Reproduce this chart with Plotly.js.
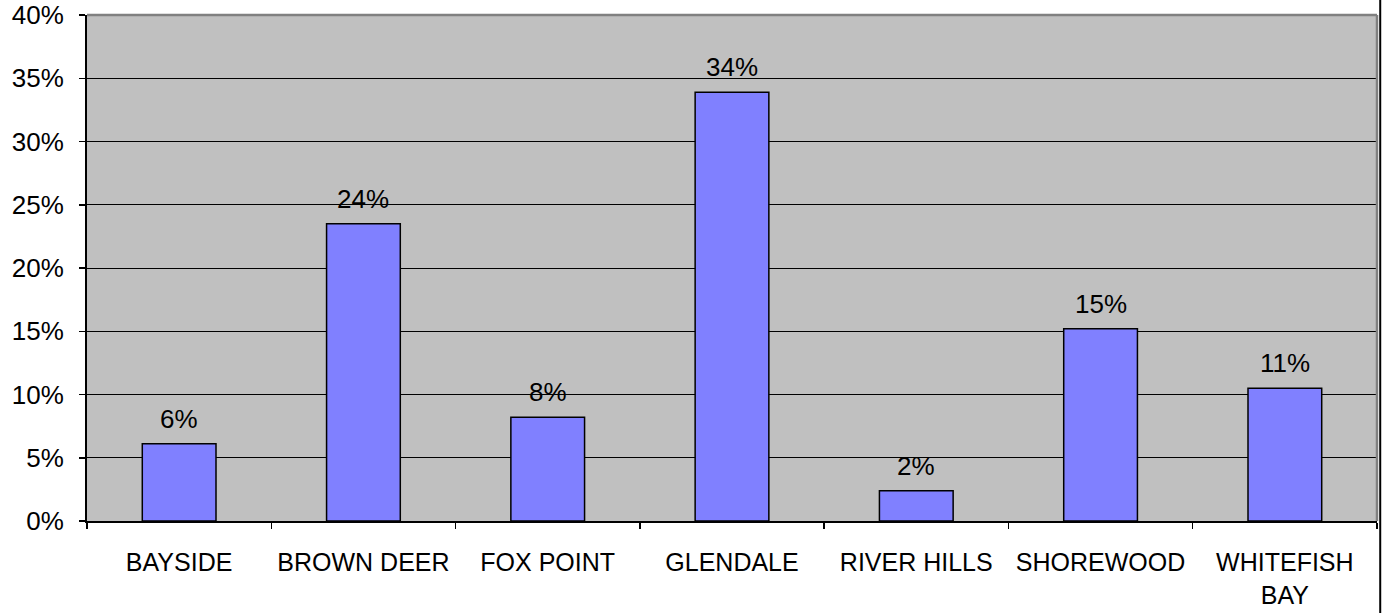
<!DOCTYPE html>
<html><head><meta charset="utf-8">
<script src="https://cdn.plot.ly/plotly-3.0.1.min.js"></script>
<style>html,body{margin:0;padding:0;background:#fff}#c{width:1387px;height:613px}</style>
</head><body><div id="c"></div>
<script>
const categories = ["BAYSIDE", "BROWN DEER", "FOX POINT", "GLENDALE", "RIVER HILLS", "SHOREWOOD", "WHITEFISH BAY"];
const tickLabels = ["BAYSIDE", "BROWN DEER", "FOX POINT", "GLENDALE", "RIVER HILLS", "SHOREWOOD", "WHITEFISH<br>BAY"];
const values = [0.061, 0.235, 0.082, 0.339, 0.024, 0.152, 0.105];
const labels = values.map(v => Math.round(v * 100) + "%");

const font = {family: "Liberation Sans, Arial, sans-serif", color: "#000"};

const trace = {
  type: "bar",
  x: categories,
  y: values,
  marker: {color: "#8080FF", line: {color: "#000", width: 1.5}},
  hoverinfo: "none"
};

const annotations = values.map((v, i) => ({
  x: categories[i], y: v, xref: "x", yref: "y",
  text: labels[i], showarrow: false, yanchor: "bottom", yshift: 8,
  font: Object.assign({}, font, {size: 26})
}));

const layout = {
  width: 1387, height: 613,
  margin: {l: 87, r: 10, t: 15, b: 92},
  paper_bgcolor: "#fff",
  plot_bgcolor: "#C0C0C0",
  bargap: 0.6,
  showlegend: false,
  font: font,
  xaxis: {
    type: "category",
    tickvals: categories, ticktext: tickLabels,
    tickson: "boundaries",
    tickangle: 0,
    ticks: "outside", ticklen: 6, tickwidth: 1.5, tickcolor: "#000",
    ticklabelstandoff: 18,
    showline: true, linecolor: "#000", linewidth: 2,
    showgrid: false,
    tickfont: Object.assign({}, font, {size: 25}),
    automargin: false
  },
  yaxis: {
    range: [0, 0.4], dtick: 0.05, tickformat: ".0%",
    ticks: "outside", ticklen: 6, tickwidth: 1.5, tickcolor: "#000",
    ticklabelstandoff: 10,
    showline: true, linecolor: "#000", linewidth: 2,
    showgrid: true, gridcolor: "#000", gridwidth: 1,
    zeroline: false,
    tickfont: Object.assign({}, font, {size: 26}),
    automargin: false
  },
  annotations: annotations,
  shapes: [
    {type: "line", xref: "paper", yref: "paper", x0: 0, x1: 1, y0: 1, y1: 1, line: {color: "#808080", width: 2.5}},
    {type: "line", xref: "paper", yref: "paper", x0: 1, x1: 1, y0: 0, y1: 1, line: {color: "#808080", width: 2.5}},
    {type: "line", xref: "paper", yref: "paper", x0: 1.0025, x1: 1.0025, y0: -0.2, y1: 1.04, line: {color: "#000", width: 2}}
  ]
};

Plotly.newPlot("c", [trace], layout, {displayModeBar: false, staticPlot: true});
</script>
</body></html>
